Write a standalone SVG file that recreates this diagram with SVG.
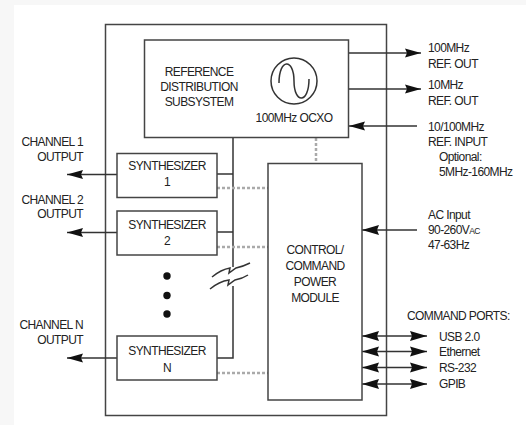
<svg xmlns="http://www.w3.org/2000/svg" width="526" height="425" viewBox="0 0 526 425">
<defs>
<style>
.bx{fill:#fff;stroke:#444;stroke-width:1.5}
.ln{fill:none;stroke:#333;stroke-width:1.5}
.dt{fill:none;stroke:#aaa;stroke-width:2.5;stroke-dasharray:3 2}
text{font-family:"Liberation Sans",Arial,sans-serif;font-size:12px;fill:#222;letter-spacing:-0.6px}
.c{text-anchor:middle}
.r{text-anchor:end}
</style>
<marker id="ah" markerUnits="userSpaceOnUse" viewBox="0 0 16 10" refX="16" refY="5" markerWidth="16" markerHeight="10" orient="auto-start-reverse">
<path d="M0,0.5 L16,5 L0,9.5 L2,5 Z" fill="#111"/>
</marker>
<marker id="ah2" markerUnits="userSpaceOnUse" viewBox="0 0 17 11" refX="17" refY="5.5" markerWidth="17" markerHeight="11" orient="auto-start-reverse">
<path d="M0,0.5 L17,5.5 L0,10.5 L2,5.5 Z" fill="#111"/>
</marker>
</defs>
<rect width="526" height="425" fill="#f7f7f7"/>
<rect x="14" y="5" width="512" height="420" fill="#fff"/>
<g id="chassis"><rect class="bx" x="105.5" y="24.5" width="281" height="391"/></g>
<g id="connectors">
<path class="ln" d="M348,53 H421" marker-end="url(#ah)"/>
<path class="ln" d="M348,89 H421" marker-end="url(#ah)"/>
<path class="ln" d="M417,126 H349" marker-end="url(#ah)"/>
<path class="dt" d="M316,138 V163"/>
<path class="ln" d="M233,138 V267"/>
<path class="ln" d="M233,286 V358 H217"/>
<path class="ln" d="M217,174 H233"/>
<path class="ln" d="M217,232 H233"/>
<path class="dt" d="M217,188 H268"/>
<path class="dt" d="M217,247 H268"/>
<path class="dt" d="M217,373 H268"/>
<path class="ln" d="M117,174.5 H67" marker-end="url(#ah)"/>
<path class="ln" d="M117,232.5 H67" marker-end="url(#ah)"/>
<path class="ln" d="M117,358 H67" marker-end="url(#ah)"/>
<path class="ln" d="M417,230 H362" marker-end="url(#ah2)"/>
<path class="ln" d="M362,336 H427" marker-start="url(#ah2)" marker-end="url(#ah2)"/>
<path class="ln" d="M362,351.5 H427" marker-start="url(#ah2)" marker-end="url(#ah2)"/>
<path class="ln" d="M362,367.5 H427" marker-start="url(#ah2)" marker-end="url(#ah2)"/>
<path class="ln" d="M362,384 H427" marker-start="url(#ah2)" marker-end="url(#ah2)"/>
<path class="ln" d="M212,277 C218,272 224,269 230,268 L229,273 L236,268 C241,267 246,265 250,263"/>
<path class="ln" d="M210,289 C216,284 222,281 229,280 L228,285 L235,280 C240,279 245,277 248,275"/>
</g>
<g id="ref">
<rect class="bx" x="144.5" y="40" width="204" height="97.5"/>
<text class="c" x="199" y="76">REFERENCE</text>
<text class="c" x="199" y="91">DISTRIBUTION</text>
<text class="c" x="199" y="105.5">SUBSYSTEM</text>
<circle cx="294" cy="81" r="23" fill="none" stroke="#333" stroke-width="1.5"/>
<path class="ln" d="M279,83 C279,58 294,58 294,81 C294,104 309,104 309,79"/>
<text class="c" x="294" y="122">100MHz OCXO</text>
</g>
<g id="synth1">
<rect class="bx" x="117" y="153.5" width="100" height="44"/>
<text class="c" x="167" y="170">SYNTHESIZER</text>
<text class="c" x="167" y="186">1</text>
</g>
<g id="synth2">
<rect class="bx" x="117" y="211" width="100" height="44"/>
<text class="c" x="167" y="229">SYNTHESIZER</text>
<text class="c" x="167" y="244.5">2</text>
</g>
<g id="synthN">
<rect class="bx" x="117" y="336" width="100" height="44"/>
<text class="c" x="167" y="355">SYNTHESIZER</text>
<text class="c" x="167" y="371.5">N</text>
</g>
<g id="dots" fill="#111">
<circle cx="167" cy="276" r="3.7"/>
<circle cx="167" cy="295.5" r="3.7"/>
<circle cx="167" cy="314" r="3.7"/>
</g>
<g id="control">
<rect class="bx" x="268" y="163.5" width="94" height="236.5"/>
<text class="c" x="315" y="254">CONTROL/</text>
<text class="c" x="315" y="270">COMMAND</text>
<text class="c" x="315" y="286">POWER</text>
<text class="c" x="315" y="302">MODULE</text>
</g>
<g id="labels">
<text class="r" x="83" y="146">CHANNEL 1</text>
<text class="r" x="83" y="161">OUTPUT</text>
<text class="r" x="83" y="203.5">CHANNEL 2</text>
<text class="r" x="83" y="217.5">OUTPUT</text>
<text class="r" x="83" y="328.5">CHANNEL N</text>
<text class="r" x="83" y="344">OUTPUT</text>
<text x="428" y="52">100MHz</text>
<text x="428" y="67.5">REF. OUT</text>
<text x="428" y="89">10MHz</text>
<text x="428" y="104.5">REF. OUT</text>
<text x="428" y="131">10/100MHz</text>
<text x="428" y="146">REF. INPUT</text>
<text x="439" y="161">Optional:</text>
<text x="439" y="176">5MHz-160MHz</text>
<text x="428" y="218.5">AC Input</text>
<text x="428" y="233.5">90-260V<tspan font-size="8.5">AC</tspan></text>
<text x="428" y="249">47-63Hz</text>
<text x="407" y="319.5">COMMAND PORTS:</text>
<text x="439" y="341">USB 2.0</text>
<text x="439" y="356">Ethernet</text>
<text x="439" y="372">RS-232</text>
<text x="439" y="388">GPIB</text>
</g>
</svg>
